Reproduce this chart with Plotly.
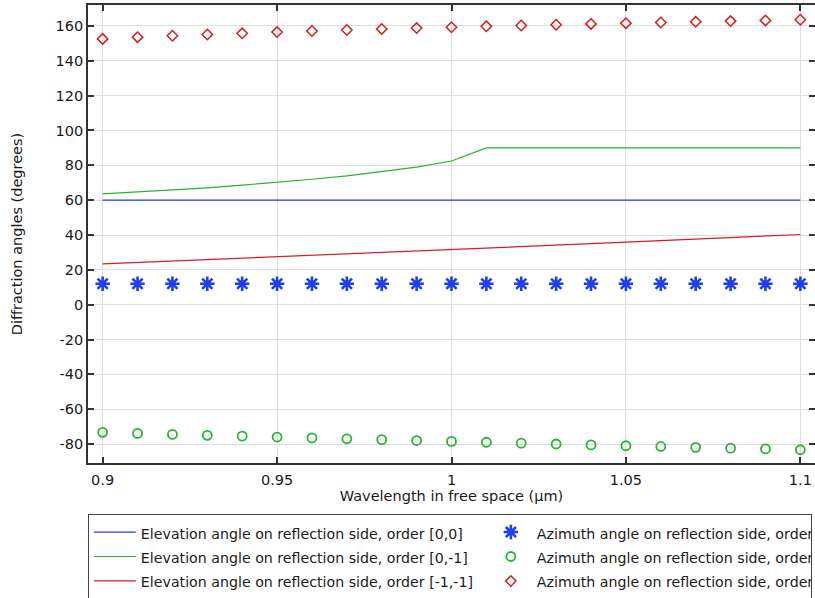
import plotly.graph_objects as go

wavelength = [0.90, 0.91, 0.92, 0.93, 0.94, 0.95, 0.96, 0.97, 0.98, 0.99, 1.00,
              1.01, 1.02, 1.03, 1.04, 1.05, 1.06, 1.07, 1.08, 1.09, 1.10]

elev_00 = [60.0] * 21
elev_0m1 = [63.6, 64.7, 65.8, 67.1, 68.6, 70.2, 72.0, 74.0, 76.3, 79.0, 82.5,
            90.0, 90.0, 90.0, 90.0, 90.0, 90.0, 90.0, 90.0, 90.0, 90.0]
elev_m1m1 = [23.4, 24.2, 25.0, 25.8, 26.6, 27.4, 28.2, 29.0, 29.9, 30.7, 31.6,
             32.4, 33.3, 34.1, 35.0, 35.9, 36.8, 37.6, 38.5, 39.4, 40.3]
azim_00 = [12.0] * 21
azim_0m1 = [-73.3, -73.9, -74.5, -75.0, -75.5, -76.0, -76.5, -77.0, -77.5, -78.0, -78.5,
            -79.0, -79.5, -80.0, -80.5, -81.0, -81.4, -81.9, -82.4, -82.8, -83.3]
azim_m1m1 = [152.6, 153.6, 154.4, 155.1, 155.8, 156.5, 157.1, 157.7, 158.3, 158.8, 159.3,
             159.8, 160.3, 160.7, 161.2, 161.6, 162.0, 162.4, 162.8, 163.2, 163.6]

x_tickvals = [0.9, 0.95, 1.0, 1.05, 1.1]
x_ticktext = ["0.9", "0.95", "1", "1.05", "1.1"]
y_tickvals = [-80, -60, -40, -20, 0, 20, 40, 60, 80, 100, 120, 140, 160]
y_ticktext = ["-80", "-60", "-40", "-20", "0", "20", "40", "60", "80", "100", "120", "140", "160"]

names_lines = ["Elevation angle on reflection side, order [0,0]",
               "Elevation angle on reflection side, order [0,-1]",
               "Elevation angle on reflection side, order [-1,-1]"]
names_marks = ["Azimuth angle on reflection side, order [0,0]",
               "Azimuth angle on reflection side, order [0,-1]",
               "Azimuth angle on reflection side, order [-1,-1]"]

BLUE = "#1c3ff0"
GREEN = "#27b530"
RED = "#d91c1c"
FONT = "DejaVu Sans"
FS = 14.5
TXT = "#1a1a1a"

def lab(s):
    return '<span style="font-size:14.2px">' + s + '</span>'

fig = go.Figure()
line_series = [elev_00, elev_0m1, elev_m1m1]
mark_series = [azim_00, azim_0m1, azim_m1m1]
colors = [BLUE, GREEN, RED]
symbols = ["asterisk-open", "circle-open", "diamond-open"]
msizes = [12, 9, 8]
mwidths = [2.6, 1.8, 1.5]

for i in range(3):
    fig.add_trace(go.Scatter(
        x=wavelength, y=line_series[i], mode="lines", name=lab(names_lines[i]),
        line=dict(color=colors[i], width=1.2), legendwidth=339))
    fig.add_trace(go.Scatter(
        x=wavelength, y=mark_series[i], mode="markers", name=lab(names_marks[i]),
        marker=dict(symbol=symbols[i], size=msizes[i], color=colors[i],
                    line=dict(color=colors[i], width=mwidths[i])),
        legendwidth=269))

axis_common = dict(
    showline=True, linecolor="#333333", linewidth=1.6, mirror="ticks",
    ticks="inside", ticklen=6, tickwidth=1.6, tickcolor="#333333",
    showgrid=True, gridcolor="#dedede", gridwidth=1, zeroline=False,
    tickfont=dict(family=FONT, size=FS, color=TXT),
)

fig.update_layout(
    width=815, height=598,
    margin=dict(l=88, r=0, t=5, b=135, autoexpand=False),
    paper_bgcolor="white", plot_bgcolor="white",
    font=dict(family=FONT, size=FS, color=TXT),
    xaxis=dict(range=[0.8958, 1.1042], tickvals=x_tickvals, ticktext=x_ticktext,
               ticklabelstandoff=3,
               title=dict(text="Wavelength in free space (µm)", standoff=3,
                          font=dict(family=FONT, size=FS, color=TXT)),
               **axis_common),
    yaxis=dict(range=[-90.9, 172.05], tickvals=y_tickvals, ticktext=y_ticktext,
               title=dict(text="Diffraction angles (degrees)", standoff=30,
                          font=dict(family=FONT, size=FS, color=TXT)),
               **axis_common),
    legend=dict(orientation="h", x=-0.0002, xanchor="left", y=-0.111, yanchor="top",
                bordercolor="#444444", borderwidth=1, bgcolor="white",
                itemwidth=42, font=dict(family=FONT, size=16.5, color=TXT),
                traceorder="normal"),
    showlegend=True,
)

fig.write_html("out.html", config={"displayModeBar": False},
               post_script="document.body.style.margin='0';document.body.style.overflow='hidden';")
